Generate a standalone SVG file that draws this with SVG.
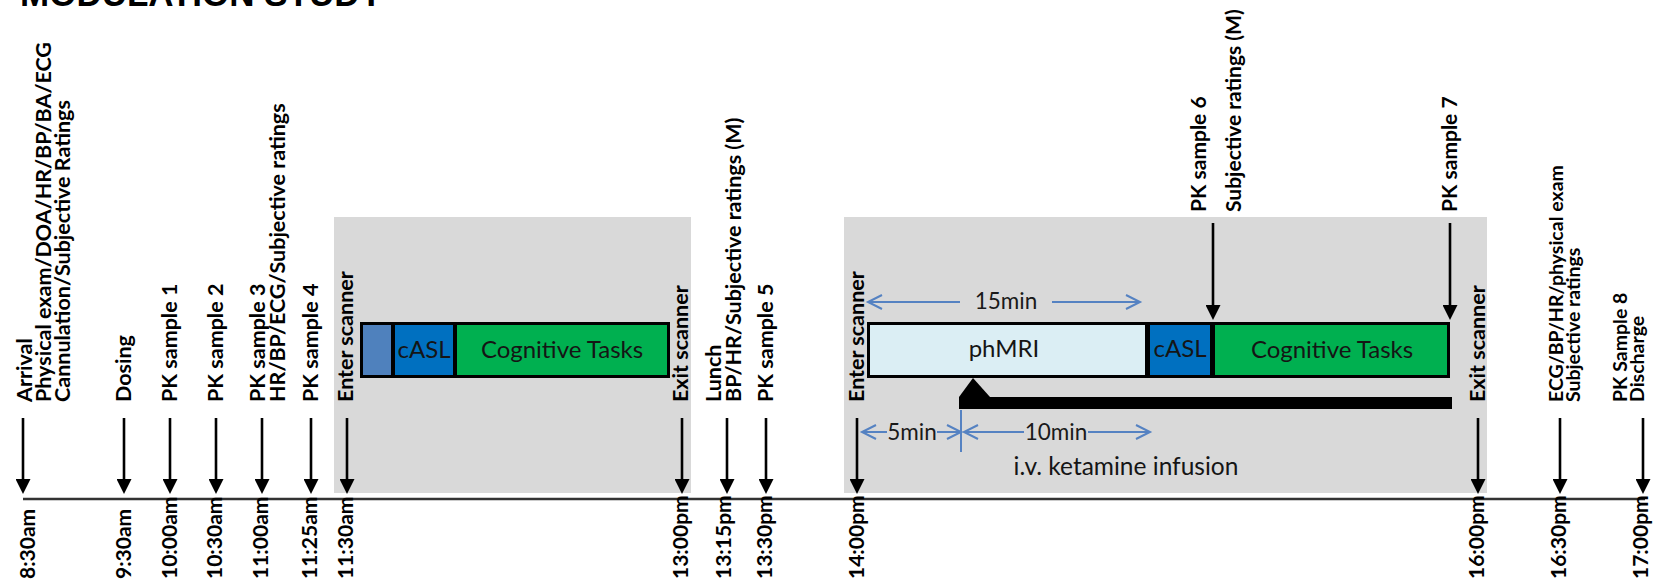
<svg xmlns="http://www.w3.org/2000/svg" width="1657" height="587" viewBox="0 0 1657 587">
<style>
.lbl{font-family:Lato,"Liberation Sans",sans-serif;font-weight:bold;font-size:21.5px;fill:#000}
.sm{font-size:19.5px}
.time{font-family:Lato,"Liberation Sans",sans-serif;font-weight:bold;font-size:21px;fill:#000}
.box{font-family:Lato,"Liberation Sans",sans-serif;font-size:24px;fill:#151515;text-anchor:middle}
.dim{font-family:Lato,"Liberation Sans",sans-serif;font-size:22.5px;fill:#1a1a1a;text-anchor:middle}
.inf{font-family:Lato,"Liberation Sans",sans-serif;font-size:24.5px;fill:#151515;text-anchor:middle}
.arr{stroke:#000;stroke-width:2.6;fill:none;marker-end:url(#ah)}
.blue{stroke:#5582c2;stroke-width:2;fill:none}
.bluea{stroke:#5582c2;stroke-width:2;fill:none;marker-end:url(#bh)}
.gray{fill:#d9d9d9}
</style>
<defs>
<marker id="ah" markerUnits="userSpaceOnUse" markerWidth="15" markerHeight="15" refX="6" refY="7.5" orient="auto" viewBox="0 0 15 15">
<path d="M0,0 L15,7.5 L0,15 z" fill="#000"/>
</marker>
<marker id="bh" markerUnits="userSpaceOnUse" markerWidth="18" markerHeight="18" refX="15" refY="8" orient="auto" viewBox="0 0 18 16">
<path d="M1,1 L15,8 L1,15" fill="none" stroke="#5582c2" stroke-width="2"/>
</marker>
</defs>
<rect width="1657" height="587" fill="#fff"/>
<text x="20" y="6" font-family="Liberation Sans,Arial,sans-serif" font-weight="bold" font-size="35" fill="#000">MODULATION STUDY</text>

<g id="scanner-session-1">
<rect class="gray" x="334" y="217" width="357" height="276"/>
<rect x="360" y="322" width="310" height="56" fill="#000"/>
<rect x="363" y="325" width="28" height="50" fill="#4f81bd"/>
<rect x="395" y="325" width="58" height="50" fill="#0070c0"/>
<rect x="457" y="325" width="210" height="50" fill="#00b050"/>
<text class="box" x="424" y="358">cASL</text>
<text class="box" x="562" y="358">Cognitive Tasks</text>
</g>

<g id="scanner-session-2">
<rect class="gray" x="844" y="217" width="643" height="276"/>
<rect x="867" y="322" width="583" height="56" fill="#000"/>
<rect x="870" y="325" width="275" height="50" fill="#dbeef4"/>
<rect x="1150" y="325" width="60" height="50" fill="#0070c0"/>
<rect x="1215" y="325" width="232" height="50" fill="#00b050"/>
<text class="box" x="1004" y="357">phMRI</text>
<text class="box" x="1180" y="357">cASL</text>
<text class="box" x="1332" y="358">Cognitive Tasks</text>
</g>

<g id="infusion">
<rect x="959" y="397" width="493" height="12" fill="#000"/>
<polygon points="959,397 973,378 990,397" fill="#000"/>
<text class="inf" x="1126" y="475">i.v. ketamine infusion</text>
</g>

<g id="connectors">
<line x1="23" y1="499" x2="1645" y2="499" stroke="#333" stroke-width="2.5"/>
<line class="arr" x1="23" y1="418" x2="23" y2="485"/>
<line class="arr" x1="124" y1="418" x2="124" y2="485"/>
<line class="arr" x1="170" y1="418" x2="170" y2="485"/>
<line class="arr" x1="216" y1="418" x2="216" y2="485"/>
<line class="arr" x1="262" y1="418" x2="262" y2="485"/>
<line class="arr" x1="311" y1="418" x2="311" y2="485"/>
<line class="arr" x1="347" y1="418" x2="347" y2="485"/>
<line class="arr" x1="682" y1="418" x2="682" y2="485"/>
<line class="arr" x1="727" y1="418" x2="727" y2="485"/>
<line class="arr" x1="766" y1="418" x2="766" y2="485"/>
<line class="arr" x1="857" y1="418" x2="857" y2="485"/>
<line class="arr" x1="1478" y1="418" x2="1478" y2="485"/>
<line class="arr" x1="1560" y1="418" x2="1560" y2="485"/>
<line class="arr" x1="1643" y1="418" x2="1643" y2="485"/>
<line class="arr" x1="1213" y1="223" x2="1213" y2="311"/>
<line class="arr" x1="1450" y1="223" x2="1450" y2="311"/>
<line class="bluea" x1="960" y1="302" x2="868" y2="302"/>
<line class="bluea" x1="1052" y1="302" x2="1140" y2="302"/>
<line class="bluea" x1="887" y1="432" x2="862" y2="432"/>
<line class="bluea" x1="937" y1="432" x2="961" y2="432"/>
<line class="bluea" x1="1024" y1="432" x2="964" y2="432"/>
<line class="bluea" x1="1088" y1="432" x2="1150" y2="432"/>
<line class="blue" x1="961" y1="410" x2="961" y2="452"/>
</g>

<g id="dimension-labels">
<text class="dim" x="1006" y="309">15min</text>
<text class="dim" x="912" y="440">5min</text>
<text class="dim" x="1056" y="440">10min</text>
</g>

<g id="event-labels" class="lbl">
<g id="ev-arrival" transform="translate(32,402) rotate(-90)"><text x="0" y="0">Arrival</text><text x="0" y="19">Physical exam/DOA/HR/BP/BA/ECG</text><text x="0" y="38">Cannulation/Subjective Ratings</text></g>
<g id="ev-dosing" transform="translate(131,402) rotate(-90)"><text>Dosing</text></g>
<g id="ev-pk1" transform="translate(177,402) rotate(-90)"><text>PK sample 1</text></g>
<g id="ev-pk2" transform="translate(223,402) rotate(-90)"><text>PK sample 2</text></g>
<g id="ev-pk3" transform="translate(265,402) rotate(-90)"><text x="0" y="0">PK sample 3</text><text x="0" y="20">HR/BP/ECG/Subjective ratings</text></g>
<g id="ev-pk4" transform="translate(318,402) rotate(-90)"><text>PK sample 4</text></g>
<g id="ev-enter1" transform="translate(353,402) rotate(-90)"><text>Enter scanner</text></g>
<g id="ev-exit1" transform="translate(688,402) rotate(-90)"><text>Exit scanner</text></g>
<g id="ev-lunch" transform="translate(721,402) rotate(-90)"><text x="0" y="0">Lunch</text><text x="0" y="20">BP/HR/Subjective ratings (M)</text></g>
<g id="ev-pk5" transform="translate(773,402) rotate(-90)"><text>PK sample 5</text></g>
<g id="ev-enter2" transform="translate(864,402) rotate(-90)"><text>Enter scanner</text></g>
<g id="ev-pk6" transform="translate(1206,212) rotate(-90)" style="font-size:21px"><text x="0" y="0">PK sample 6</text><text x="0" y="35">Subjective ratings (M)</text></g>
<g id="ev-pk7" transform="translate(1457,212) rotate(-90)" style="font-size:21px"><text>PK sample 7</text></g>
<g id="ev-exit2" transform="translate(1485,402) rotate(-90)"><text>Exit scanner</text></g>
<g id="ev-ecg" transform="translate(1563,402) rotate(-90)" class="sm"><text x="0" y="0">ECG/BP/HR/physical exam</text><text x="0" y="17">Subjective ratings</text></g>
<g id="ev-pk8" transform="translate(1627,402) rotate(-90)" class="sm"><text x="0" y="0">PK Sample 8</text><text x="0" y="17">Discharge</text></g>
</g>

<g id="time-labels" class="time">
<text transform="translate(35,579) rotate(-90)">8:30am</text>
<text transform="translate(131,579) rotate(-90)">9:30am</text>
<text transform="translate(177,579) rotate(-90)">10:00am</text>
<text transform="translate(222,579) rotate(-90)">10:30am</text>
<text transform="translate(268,579) rotate(-90)">11:00am</text>
<text transform="translate(317,579) rotate(-90)">11:25am</text>
<text transform="translate(353,579) rotate(-90)">11:30am</text>
<text transform="translate(688,579) rotate(-90)">13:00pm</text>
<text transform="translate(731,579) rotate(-90)">13:15pm</text>
<text transform="translate(772,579) rotate(-90)">13:30pm</text>
<text transform="translate(864,579) rotate(-90)">14:00pm</text>
<text transform="translate(1484,579) rotate(-90)">16:00pm</text>
<text transform="translate(1566,579) rotate(-90)">16:30pm</text>
<text transform="translate(1648,579) rotate(-90)">17:00pm</text>
</g>
</svg>
